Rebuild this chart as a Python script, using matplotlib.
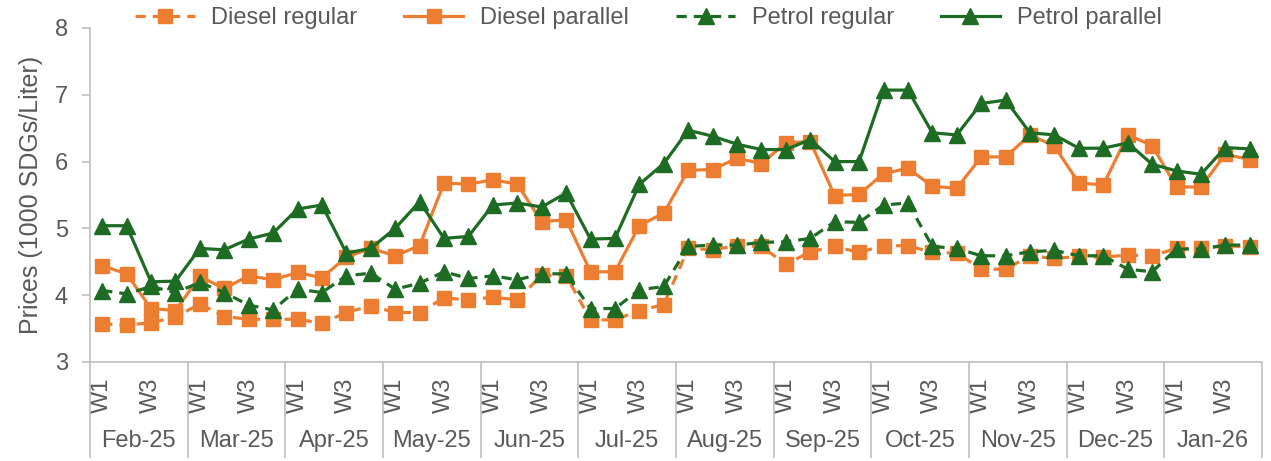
#!/usr/bin/env python3
"""Weekly fuel prices (regular vs parallel market), Feb-25 to Jan-26."""
import matplotlib
matplotlib.use("Agg")
import matplotlib.pyplot as plt
import matplotlib.transforms as mtransforms

months = ["Feb-25", "Mar-25", "Apr-25", "May-25", "Jun-25", "Jul-25",
          "Aug-25", "Sep-25", "Oct-25", "Nov-25", "Dec-25", "Jan-26"]
weeks = ["W1", "W2", "W3", "W4"]

# prices in 1000 SDGs per liter, 4 weeks per month
diesel_regular = [3.57, 3.55, 3.59, 3.67, 3.87, 3.68, 3.64, 3.64,
                  3.64, 3.58, 3.74, 3.84, 3.74, 3.74, 3.96, 3.93,
                  3.97, 3.93, 4.30, 4.29, 3.63, 3.63, 3.77, 3.86,
                  4.70, 4.68, 4.74, 4.73, 4.46, 4.65, 4.73, 4.64,
                  4.74, 4.74, 4.64, 4.63, 4.39, 4.39, 4.59, 4.55,
                  4.58, 4.57, 4.60, 4.59, 4.70, 4.70, 4.74, 4.72]
diesel_parallel = [4.44, 4.32, 3.80, 3.77, 4.28, 4.10, 4.29, 4.23,
                   4.34, 4.26, 4.57, 4.70, 4.59, 4.74, 5.68, 5.66,
                   5.73, 5.66, 5.10, 5.13, 4.35, 4.35, 5.04, 5.23,
                   5.87, 5.88, 6.05, 5.97, 6.28, 6.30, 5.49, 5.51,
                   5.82, 5.90, 5.63, 5.60, 6.07, 6.07, 6.40, 6.23,
                   5.68, 5.65, 6.40, 6.24, 5.62, 5.62, 6.11, 6.03]
petrol_regular = [4.07, 4.02, 4.13, 4.04, 4.19, 4.04, 3.85, 3.78,
                  4.09, 4.04, 4.29, 4.33, 4.09, 4.18, 4.35, 4.25,
                  4.29, 4.23, 4.32, 4.32, 3.80, 3.80, 4.08, 4.13,
                  4.73, 4.75, 4.75, 4.79, 4.80, 4.85, 5.10, 5.09,
                  5.35, 5.38, 4.73, 4.70, 4.59, 4.59, 4.65, 4.67,
                  4.59, 4.59, 4.39, 4.35, 4.69, 4.69, 4.75, 4.75]
petrol_parallel = [5.04, 5.04, 4.20, 4.21, 4.70, 4.68, 4.84, 4.93,
                   5.29, 5.35, 4.63, 4.70, 5.00, 5.40, 4.85, 4.88,
                   5.35, 5.38, 5.32, 5.53, 4.84, 4.85, 5.66, 5.97,
                   6.47, 6.38, 6.26, 6.18, 6.18, 6.33, 6.00, 6.00,
                   7.07, 7.07, 6.43, 6.40, 6.87, 6.92, 6.43, 6.40,
                   6.20, 6.20, 6.28, 5.96, 5.86, 5.81, 6.21, 6.19]

ORANGE = "#ED7D31"
GREEN = "#1E6B24"
GREY = "#BFBFBF"
TEXT = "#595959"
FS = 17

plt.rcParams["font.family"] = ["Liberation Sans", "DejaVu Sans"]

fig = plt.figure(figsize=(12.71, 4.61), dpi=100)
ax = fig.add_axes([0.0708, 0.2148, 0.9221, 0.7245])

x = list(range(len(months) * len(weeks)))
lw = 2.3
ms = 10
dash = (0, (3.2, 2.2))

ax.plot(x, diesel_regular, color=ORANGE, lw=lw, linestyle=dash, marker="s",
        ms=ms, label="Diesel regular")
ax.plot(x, diesel_parallel, color=ORANGE, lw=lw, marker="s", ms=ms,
        label="Diesel parallel")
ax.plot(x, petrol_regular, color=GREEN, lw=lw, linestyle=dash, marker="^",
        ms=ms + 1, label="Petrol regular")
ax.plot(x, petrol_parallel, color=GREEN, lw=lw, marker="^", ms=ms + 1,
        label="Petrol parallel")

ax.set_xlim(-0.5, len(x) - 0.5)
ax.set_ylim(3, 8)
ax.set_yticks(range(3, 9))

for side in ["top", "right"]:
    ax.spines[side].set_visible(False)
for side in ["left", "bottom"]:
    ax.spines[side].set_color(GREY)
    ax.spines[side].set_linewidth(1.2)

ax.tick_params(axis="y", colors=GREY, length=6, width=1.2, labelsize=FS,
               labelcolor=TEXT, pad=10)

# week labels: only W1 and W3 shown
wk_labels = [w if w in ("W1", "W3") else "" for _ in months for w in weeks]
ax.set_xticks(x)
ax.set_xticklabels(wk_labels, rotation=90, fontsize=FS, color=TEXT)
ax.tick_params(axis="x", which="major", length=0, pad=11)

# month separators below the axis
ax.set_xticks([i * 4 - 0.5 for i in range(len(months) + 1)], minor=True)
ax.tick_params(axis="x", which="minor", length=69, width=1.2, color=GREY,
               direction="out")

trans = mtransforms.blended_transform_factory(ax.transData, ax.transAxes)
for i, m in enumerate(months):
    ax.text(i * 4 + 1.5, -0.237, m, transform=trans, ha="center", va="center",
            fontsize=FS, color=TEXT)

ax.set_ylabel("Prices (1000 SDGs/Liter)", fontsize=18, color=TEXT, labelpad=8)

ax.legend(loc="center", bbox_to_anchor=(0.4765, 1.03), ncol=4, frameon=False,
          fontsize=FS, handlelength=2.5, handletextpad=0.7, columnspacing=2.0,
          labelcolor=TEXT)

fig.savefig("out.png", dpi=100)
